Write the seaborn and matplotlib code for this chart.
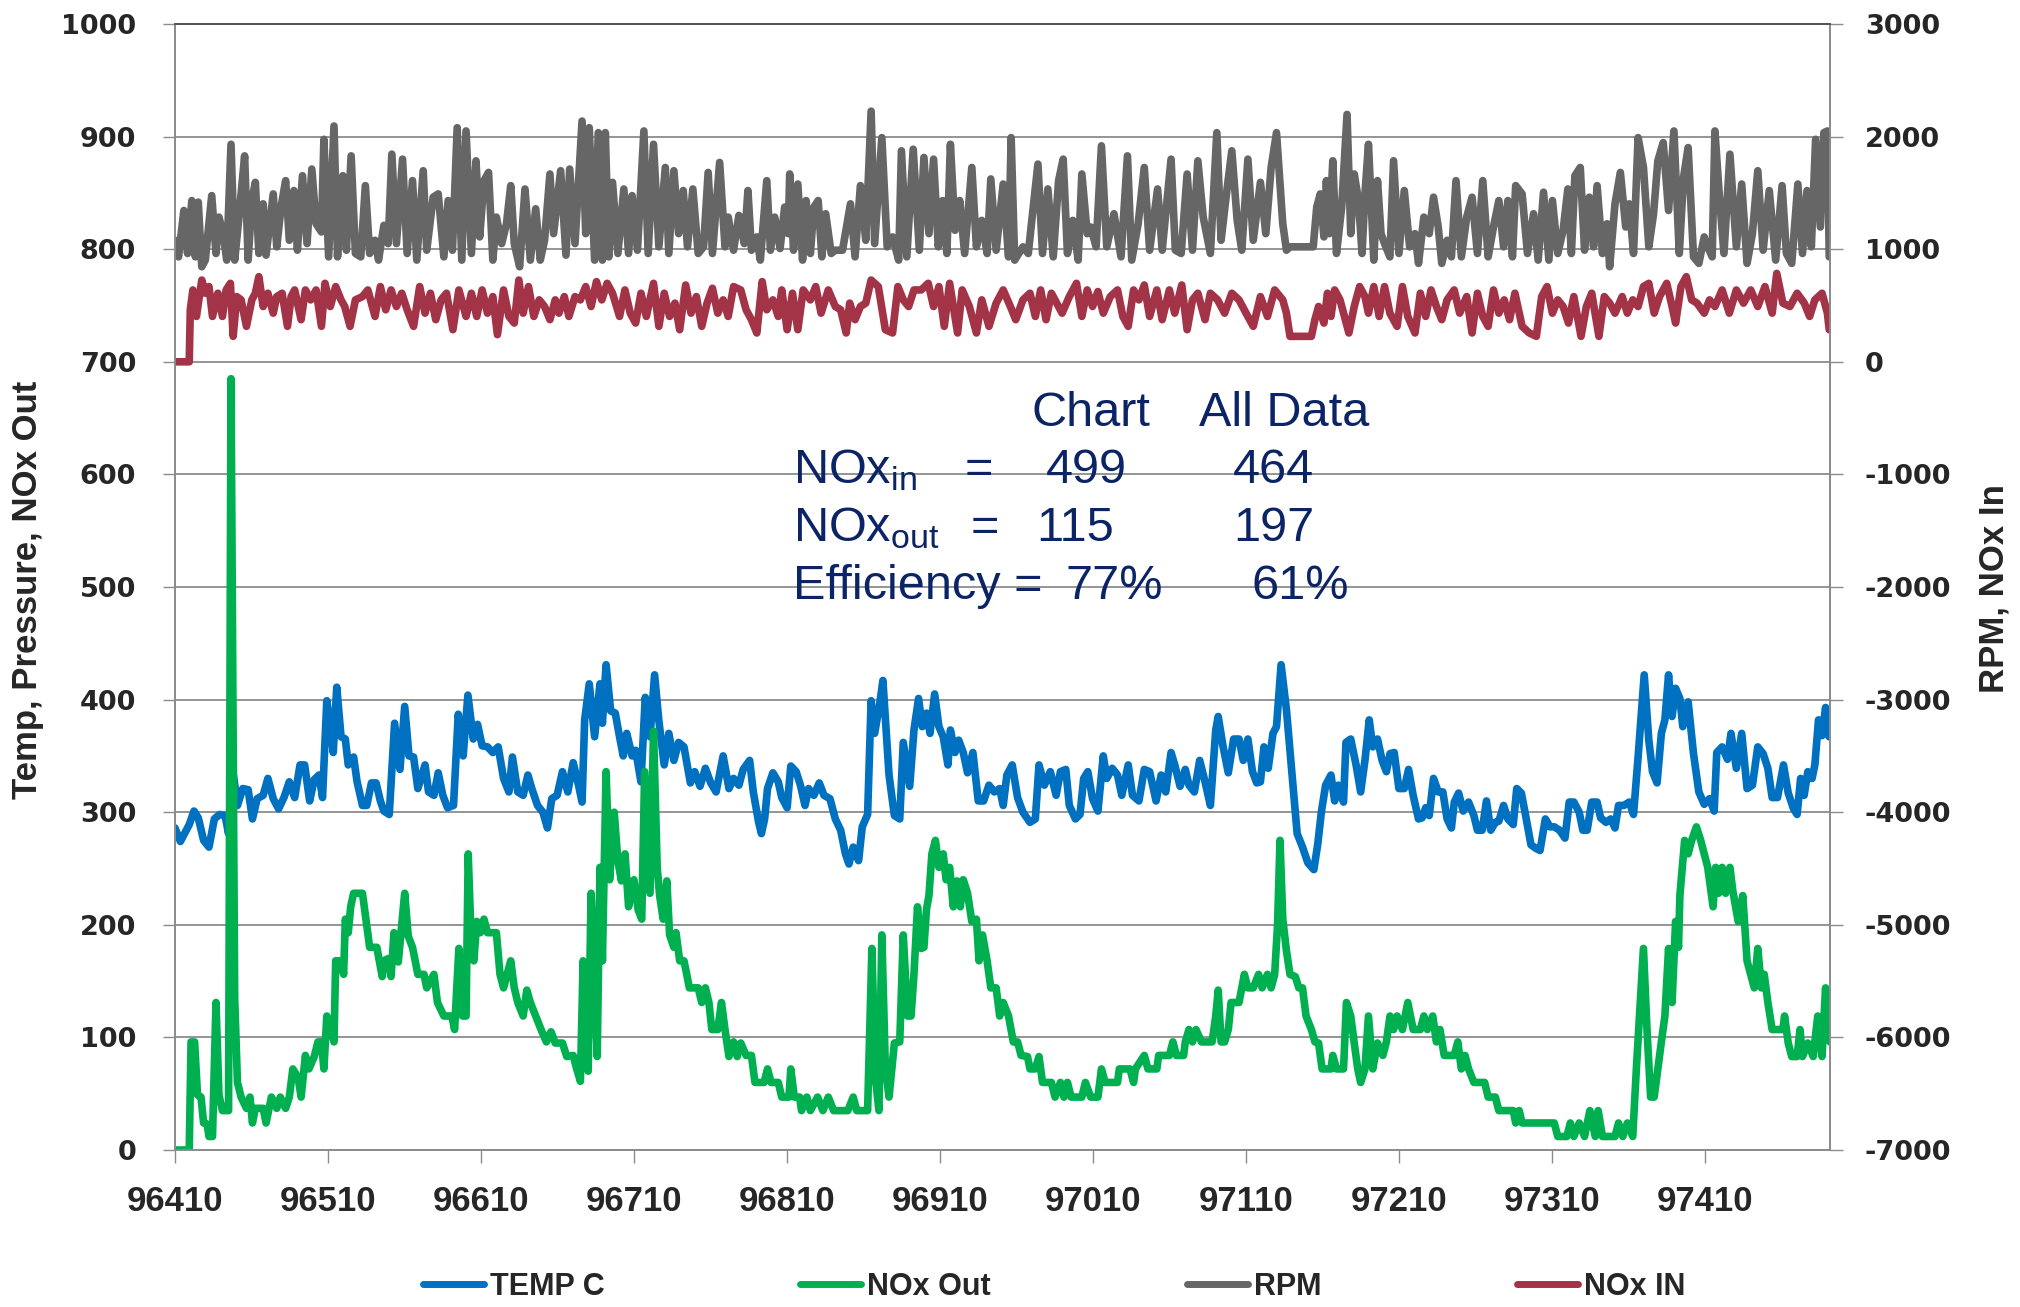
import matplotlib
matplotlib.use("Agg")
import matplotlib.pyplot as plt
from matplotlib import font_manager
import seaborn as sns
import pandas as pd
import numpy as np

# ---- data (x = record number, y = value) ----
temp_c = [
    (96410.0, 286), (96413.5, 274), (96417.0, 283), (96419.3, 289), (96422.4, 301), (96425.2, 295),
    (96428.7, 275), (96432.2, 269), (96435.7, 294), (96439.2, 298), (96442.7, 297), (96445.0, 281),
    (96447.3, 342), (96450.8, 306), (96454.3, 321), (96457.8, 320), (96460.6, 294), (96463.7, 312),
    (96467.6, 315), (96470.7, 330), (96474.2, 312), (96477.7, 303), (96481.2, 313), (96484.7, 327),
    (96488.2, 313), (96491.7, 342), (96494.7, 342), (96498.0, 310), (96501.0, 329), (96504.1, 333),
    (96506.4, 313), (96509.2, 399), (96511.5, 376), (96513.4, 353), (96515.7, 411), (96518.5, 367),
    (96521.3, 365), (96523.2, 342), (96526.7, 349), (96529.0, 327), (96532.5, 306), (96535.3, 306),
    (96538.4, 326), (96541.4, 326), (96544.2, 310), (96546.5, 301), (96550.0, 298), (96553.5, 379),
    (96557.0, 338), (96560.1, 394), (96562.9, 350), (96565.9, 349), (96568.7, 321), (96573.4, 342),
    (96575.7, 318), (96579.2, 315), (96582.0, 335), (96585.0, 315), (96588.1, 304), (96592.0, 306),
    (96595.1, 387), (96598.3, 350), (96601.4, 404), (96604.9, 365), (96607.7, 378), (96610.7, 359),
    (96614.2, 358), (96617.7, 353), (96621.2, 358), (96624.7, 330), (96628.2, 318), (96630.5, 349),
    (96634.0, 318), (96637.5, 315), (96640.6, 333), (96643.4, 320), (96646.9, 306), (96650.4, 300),
    (96653.4, 286), (96656.2, 312), (96659.7, 315), (96663.2, 336), (96666.7, 318), (96670.2, 344),
    (96673.7, 324), (96676.0, 309), (96677.7, 382), (96680.7, 414), (96684.2, 367), (96687.7, 414),
    (96689.3, 379), (96691.7, 431), (96694.7, 390), (96697.7, 388), (96700.5, 367), (96702.9, 350),
    (96705.2, 370), (96708.7, 350), (96711.0, 355), (96714.5, 327), (96717.3, 402), (96720.4, 367),
    (96723.4, 422), (96726.2, 381), (96729.7, 342), (96732.7, 370), (96736.0, 346), (96739.1, 362),
    (96742.6, 358), (96746.8, 326), (96749.6, 336), (96753.1, 323), (96756.6, 339), (96760.1, 326),
    (96763.6, 318), (96768.2, 350), (96772.0, 321), (96775.0, 330), (96778.5, 324), (96781.3, 338),
    (96785.5, 346), (96787.9, 318), (96791.4, 291), (96793.2, 281), (96795.3, 294), (96797.2, 321),
    (96800.7, 335), (96804.2, 327), (96806.5, 313), (96810.0, 304), (96812.4, 341), (96815.9, 336),
    (96818.7, 324), (96821.7, 306), (96824.0, 321), (96827.5, 315), (96831.0, 326), (96834.1, 315),
    (96838.0, 312), (96841.5, 294), (96845.0, 284), (96848.1, 263), (96850.4, 254), (96853.2, 269),
    (96856.7, 257), (96859.1, 287), (96862.6, 298), (96864.9, 399), (96867.2, 370), (96870.7, 398),
    (96872.6, 417), (96876.6, 333), (96880.1, 297), (96883.6, 294), (96885.9, 362), (96890.1, 323),
    (96892.9, 373), (96895.9, 401), (96898.3, 376), (96901.1, 388), (96903.4, 370), (96906.4, 405),
    (96909.2, 376), (96912.0, 367), (96915.1, 342), (96916.7, 373), (96919.7, 353), (96922.1, 364),
    (96925.1, 353), (96927.9, 335), (96931.4, 353), (96934.9, 310), (96938.4, 310), (96941.9, 324),
    (96945.4, 318), (96948.9, 321), (96951.2, 306), (96953.6, 333), (96957.1, 342), (96960.6, 313),
    (96964.1, 300), (96968.7, 291), (96972.2, 294), (96974.6, 342), (96978.1, 324), (96982.0, 336),
    (96985.8, 315), (96988.6, 336), (96992.1, 338), (96994.4, 306), (96998.4, 294), (97001.4, 298),
    (97003.8, 330), (97006.5, 336), (97009.6, 312), (97013.1, 301), (97016.6, 350), (97018.9, 330),
    (97022.4, 339), (97025.9, 333), (97028.7, 315), (97032.9, 342), (97035.7, 315), (97039.9, 310),
    (97043.4, 338), (97046.9, 336), (97051.1, 310), (97054.4, 333), (97057.4, 318), (97060.9, 353),
    (97063.3, 342), (97066.8, 323), (97070.2, 338), (97072.6, 324), (97076.1, 318), (97079.6, 346),
    (97083.1, 327), (97086.6, 306), (97090.1, 373), (97091.7, 385), (97094.8, 359), (97098.3, 335),
    (97101.8, 365), (97105.3, 365), (97108.1, 346), (97111.1, 365), (97114.1, 336), (97116.9, 326),
    (97119.3, 327), (97121.6, 358), (97124.4, 339), (97127.5, 370), (97129.8, 376), (97132.8, 431),
    (97136.3, 391), (97139.8, 336), (97143.3, 281), (97146.8, 269), (97150.3, 255), (97154.2, 249),
    (97156.8, 272), (97159.1, 300), (97161.9, 324), (97165.4, 333), (97167.8, 310), (97170.1, 324),
    (97173.6, 309), (97175.2, 362), (97178.3, 365), (97181.8, 342), (97184.8, 318), (97187.6, 346),
    (97190.4, 382), (97192.7, 358), (97195.8, 365), (97198.8, 346), (97201.6, 336), (97204.0, 352),
    (97206.7, 353), (97209.8, 321), (97213.3, 321), (97216.1, 338), (97219.1, 315), (97222.6, 294),
    (97225.0, 295), (97227.3, 304), (97229.6, 297), (97232.4, 330), (97235.5, 318), (97238.5, 318),
    (97241.3, 294), (97244.1, 286), (97246.0, 309), (97248.8, 317), (97251.8, 301), (97255.3, 309),
    (97258.8, 297), (97261.1, 284), (97264.2, 284), (97267.0, 310), (97269.8, 284), (97272.8, 291),
    (97275.1, 292), (97278.2, 306), (97281.0, 294), (97284.5, 289), (97286.8, 321), (97289.8, 317),
    (97292.6, 297), (97296.1, 271), (97299.2, 268), (97302.0, 266), (97305.5, 294), (97308.5, 287),
    (97311.3, 287), (97314.8, 284), (97318.3, 277), (97321.1, 309), (97324.1, 309), (97327.6, 300),
    (97330.0, 284), (97332.8, 284), (97335.8, 309), (97339.3, 309), (97341.6, 295), (97345.1, 291),
    (97348.2, 294), (97351.0, 286), (97353.3, 306), (97356.8, 306), (97360.3, 309), (97363.1, 298),
    (97366.1, 349), (97370.1, 422), (97373.1, 364), (97375.5, 336), (97378.5, 326), (97381.3, 370),
    (97383.6, 382), (97386.0, 422), (97388.3, 385), (97390.6, 410), (97393.4, 401), (97395.3, 376),
    (97398.8, 398), (97402.3, 352), (97405.8, 318), (97409.3, 307), (97412.8, 312), (97415.8, 301),
    (97417.5, 353), (97421.0, 358), (97424.5, 347), (97426.8, 370), (97430.3, 339), (97433.8, 370),
    (97437.3, 321), (97440.8, 324), (97444.3, 358), (97447.8, 352), (97450.9, 339), (97453.7, 313),
    (97457.2, 313), (97461.1, 342), (97464.2, 317), (97467.7, 303), (97470.0, 298), (97472.3, 330),
    (97474.6, 315), (97477.0, 336), (97479.8, 330), (97481.6, 342), (97484.0, 382), (97486.3, 368),
    (97488.6, 393), (97490.9, 367),
]

nox_out = [
    (96410.0, 0), (96419.3, 0), (96420.5, 96), (96422.8, 96), (96424.7, 49), (96427.0, 47),
    (96428.7, 24), (96431.0, 23), (96432.2, 12), (96434.5, 12), (96436.8, 131), (96438.7, 49),
    (96441.0, 35), (96445.0, 35), (96446.6, 685), (96449.0, 135), (96450.8, 60), (96453.2, 47),
    (96456.7, 37), (96459.0, 47), (96460.6, 24), (96462.5, 37), (96467.6, 37), (96469.5, 24),
    (96473.0, 47), (96476.5, 37), (96478.8, 47), (96482.3, 37), (96484.7, 47), (96487.0, 72),
    (96490.5, 64), (96492.4, 47), (96495.2, 84), (96497.5, 72), (96501.0, 83), (96503.4, 96),
    (96505.7, 96), (96507.3, 72), (96509.2, 119), (96512.0, 107), (96513.9, 96), (96515.0, 168),
    (96518.5, 168), (96520.2, 156), (96521.3, 205), (96523.2, 193), (96524.8, 216), (96526.7, 228),
    (96532.5, 228), (96537.2, 180), (96541.9, 180), (96545.4, 154), (96546.5, 168), (96549.3, 170),
    (96551.2, 154), (96553.1, 193), (96555.9, 167), (96557.7, 193), (96560.1, 228), (96562.4, 190),
    (96565.2, 180), (96568.7, 156), (96572.7, 156), (96574.5, 144), (96579.2, 156), (96581.5, 131),
    (96585.7, 119), (96590.9, 119), (96592.7, 107), (96595.5, 179), (96597.9, 119), (96600.2, 119),
    (96601.6, 263), (96603.7, 180), (96605.3, 168), (96607.2, 203), (96609.5, 193), (96611.9, 205),
    (96614.2, 193), (96620.0, 193), (96622.4, 156), (96624.7, 144), (96627.0, 156), (96629.4, 168),
    (96631.7, 144), (96634.0, 131), (96637.5, 119), (96639.9, 142), (96642.2, 131), (96645.7, 119),
    (96649.2, 107), (96652.7, 96), (96655.7, 105), (96658.5, 95), (96663.2, 95), (96666.0, 83),
    (96670.2, 84), (96672.5, 72), (96674.9, 61), (96676.7, 168), (96678.4, 83), (96680.0, 70),
    (96681.9, 228), (96684.2, 154), (96685.9, 83), (96687.7, 251), (96689.3, 168), (96691.7, 336),
    (96694.0, 240), (96697.0, 300), (96699.4, 257), (96701.7, 239), (96704.1, 263), (96706.4, 216),
    (96709.9, 240), (96712.7, 213), (96715.0, 205), (96716.9, 336), (96720.4, 228), (96722.7, 372),
    (96725.1, 251), (96726.7, 226), (96729.0, 205), (96731.4, 239), (96733.2, 191), (96736.0, 180),
    (96737.4, 193), (96739.8, 168), (96742.6, 168), (96744.4, 156), (96746.1, 144), (96751.9, 144),
    (96754.2, 131), (96756.6, 144), (96758.9, 131), (96760.8, 107), (96764.7, 107), (96767.1, 131),
    (96769.4, 107), (96772.0, 83), (96775.0, 96), (96777.4, 83), (96779.7, 95), (96783.2, 84),
    (96786.7, 84), (96789.0, 60), (96794.9, 60), (96797.2, 72), (96799.5, 60), (96804.2, 60),
    (96806.5, 47), (96811.2, 47), (96812.4, 72), (96814.7, 47), (96818.2, 47), (96819.4, 35),
    (96822.9, 47), (96825.2, 35), (96829.9, 47), (96833.4, 35), (96836.9, 47), (96840.4, 35),
    (96849.7, 35), (96853.2, 47), (96855.5, 35), (96862.6, 35), (96865.4, 179), (96867.7, 64),
    (96870.0, 35), (96871.9, 191), (96874.2, 73), (96876.6, 47), (96880.1, 95), (96883.6, 96),
    (96885.9, 191), (96888.7, 119), (96891.0, 119), (96892.9, 156), (96895.2, 216), (96897.6, 179),
    (96899.4, 180), (96901.1, 214), (96902.7, 226), (96904.6, 263), (96906.9, 275), (96909.2, 251),
    (96912.0, 263), (96913.9, 240), (96916.2, 251), (96918.6, 216), (96920.9, 239), (96923.2, 216),
    (96925.1, 240), (96927.9, 228), (96930.7, 203), (96933.7, 205), (96935.4, 168), (96937.7, 191),
    (96940.7, 168), (96943.1, 144), (96946.6, 144), (96948.9, 119), (96951.2, 131), (96954.7, 119),
    (96957.8, 96), (96960.6, 96), (96962.9, 84), (96967.1, 83), (96968.7, 72), (96972.2, 72),
    (96974.6, 83), (96976.9, 60), (96982.7, 60), (96985.1, 47), (96988.6, 60), (96990.9, 47),
    (96993.2, 60), (96995.6, 47), (97002.6, 47), (97004.9, 60), (97008.4, 47), (97013.1, 47),
    (97015.4, 72), (97017.8, 60), (97025.9, 60), (97027.1, 72), (97034.1, 72), (97036.4, 60),
    (97037.6, 72), (97043.4, 84), (97045.8, 72), (97051.6, 72), (97052.8, 84), (97059.8, 84),
    (97062.1, 96), (97064.4, 84), (97069.1, 84), (97070.2, 96), (97072.6, 107), (97074.9, 96),
    (97077.2, 107), (97080.8, 96), (97087.7, 96), (97090.1, 119), (97091.7, 142), (97093.6, 96),
    (97095.9, 96), (97098.3, 107), (97100.1, 131), (97105.3, 131), (97107.1, 144), (97108.8, 156),
    (97111.1, 144), (97114.6, 144), (97118.1, 156), (97120.4, 144), (97123.9, 156), (97126.3, 144),
    (97128.6, 156), (97130.5, 200), (97132.1, 275), (97133.9, 205), (97136.3, 177), (97138.6, 156),
    (97142.1, 154), (97144.4, 144), (97146.8, 144), (97149.1, 119), (97152.6, 107), (97154.9, 96),
    (97157.3, 95), (97159.6, 72), (97165.4, 72), (97166.6, 84), (97169.0, 72), (97173.6, 72),
    (97175.5, 131), (97178.3, 119), (97180.6, 95), (97182.9, 72), (97184.8, 60), (97187.6, 72),
    (97189.9, 119), (97192.7, 72), (97195.8, 95), (97199.3, 84), (97201.6, 96), (97204.0, 119),
    (97206.3, 107), (97208.6, 119), (97212.1, 107), (97215.6, 131), (97219.1, 107), (97223.8, 107),
    (97226.1, 119), (97228.4, 107), (97231.9, 119), (97234.3, 96), (97236.6, 107), (97239.4, 84),
    (97245.9, 84), (97248.3, 96), (97250.6, 72), (97253.0, 84), (97255.3, 72), (97258.8, 60),
    (97265.8, 60), (97268.1, 47), (97272.8, 47), (97275.1, 35), (97284.5, 35), (97286.1, 24),
    (97288.4, 35), (97290.3, 24), (97311.3, 24), (97313.6, 12), (97319.5, 12), (97321.8, 24),
    (97324.1, 12), (97327.6, 24), (97331.1, 12), (97334.6, 35), (97338.1, 12), (97340.0, 35),
    (97342.8, 12), (97351.0, 12), (97353.3, 24), (97356.1, 12), (97359.1, 24), (97362.6, 12),
    (97365.0, 73), (97369.6, 179), (97372.0, 104), (97374.3, 47), (97376.6, 47), (97379.0, 72),
    (97381.3, 96), (97383.6, 119), (97386.0, 179), (97388.3, 131), (97390.6, 203), (97392.5, 180),
    (97393.4, 226), (97396.5, 275), (97398.8, 263), (97401.1, 275), (97404.2, 287), (97407.0, 275),
    (97409.3, 263), (97411.6, 251), (97415.1, 216), (97416.8, 251), (97418.7, 228), (97421.0, 251),
    (97423.3, 228), (97426.1, 251), (97428.0, 230), (97431.5, 203), (97434.5, 226), (97437.3, 168),
    (97442.0, 144), (97444.3, 179), (97446.7, 144), (97448.5, 156), (97450.9, 131), (97453.7, 107),
    (97460.7, 107), (97461.8, 119), (97464.2, 95), (97466.5, 83), (97470.0, 83), (97471.9, 107),
    (97473.5, 83), (97477.0, 95), (97480.5, 83), (97483.5, 119), (97486.3, 83), (97488.6, 144),
    (97491.5, 96),
]

rpm = [
    (96410.0, 1079), (96412.3, 932), (96415.8, 1344), (96418.2, 962), (96421.0, 1432), (96423.3, 932),
    (96425.2, 1418), (96427.5, 844), (96429.8, 903), (96434.0, 1476), (96436.8, 962), (96438.7, 1285),
    (96441.5, 1138), (96443.8, 903), (96446.6, 1932), (96449.0, 903), (96452.0, 1315), (96455.5, 1829),
    (96457.8, 903), (96460.2, 1432), (96462.5, 1594), (96464.8, 962), (96467.6, 1403), (96469.5, 947),
    (96474.2, 1491), (96476.5, 1021), (96479.3, 1374), (96482.3, 1609), (96484.7, 1079), (96487.7, 1521),
    (96490.0, 991), (96493.3, 1653), (96496.3, 1050), (96499.4, 1712), (96502.2, 1226), (96505.7, 1153),
    (96507.3, 1976), (96510.4, 932), (96513.9, 2094), (96516.2, 932), (96519.7, 1653), (96522.0, 991),
    (96525.1, 1829), (96527.9, 962), (96531.4, 932), (96534.4, 1565), (96537.2, 962), (96540.7, 1079),
    (96543.0, 903), (96546.5, 1212), (96549.3, 1050), (96551.7, 1844), (96554.7, 1050), (96558.7, 1800),
    (96561.7, 962), (96565.2, 1609), (96568.0, 903), (96572.2, 1697), (96574.5, 991), (96578.7, 1462),
    (96582.0, 1491), (96585.7, 932), (96588.5, 1432), (96591.3, 991), (96594.4, 2079), (96597.4, 903),
    (96600.2, 2050), (96603.7, 962), (96606.7, 1785), (96609.1, 1109), (96611.9, 1609), (96614.9, 1682),
    (96617.7, 903), (96620.0, 1285), (96623.5, 1050), (96626.6, 1226), (96629.4, 1565), (96631.7, 1050),
    (96635.2, 844), (96638.7, 1535), (96642.2, 903), (96645.7, 1359), (96648.7, 903), (96651.5, 1079),
    (96655.0, 1668), (96657.4, 1138), (96662.0, 1697), (96665.5, 947), (96667.9, 1712), (96671.4, 1050),
    (96676.0, 2138), (96678.4, 1138), (96680.7, 2079), (96684.2, 903), (96686.6, 2035), (96689.3, 903),
    (96691.2, 2035), (96693.5, 932), (96695.9, 1594), (96699.4, 962), (96703.3, 1535), (96706.4, 962),
    (96708.7, 1476), (96712.2, 991), (96716.4, 2050), (96719.2, 962), (96722.7, 1932), (96726.2, 1021),
    (96730.4, 1726), (96732.7, 962), (96736.0, 1697), (96739.1, 1138), (96742.1, 1521), (96744.9, 1021),
    (96748.4, 1535), (96751.9, 962), (96755.4, 1021), (96758.4, 1682), (96761.2, 962), (96765.9, 1771),
    (96769.4, 1021), (96771.5, 1285), (96775.0, 991), (96778.5, 1300), (96782.0, 1050), (96784.4, 1521),
    (96786.7, 991), (96790.2, 1109), (96792.5, 903), (96796.7, 1609), (96799.1, 991), (96801.9, 1285),
    (96805.4, 1006), (96808.4, 1374), (96810.7, 1138), (96811.7, 1668), (96814.2, 991), (96817.0, 1579),
    (96820.1, 903), (96822.4, 1432), (96825.2, 962), (96827.5, 1374), (96830.3, 1432), (96832.7, 932),
    (96835.2, 1315), (96838.8, 962), (96841.5, 991), (96846.2, 991), (96851.4, 1403), (96854.4, 932),
    (96857.9, 1565), (96861.4, 1079), (96864.9, 2226), (96867.2, 1050), (96871.9, 1991), (96875.4, 1021),
    (96878.9, 1109), (96882.9, 903), (96884.7, 1874), (96888.2, 932), (96892.4, 1888), (96896.4, 991),
    (96899.4, 1815), (96902.7, 1138), (96905.7, 1800), (96908.8, 1021), (96911.6, 1432), (96914.4, 962),
    (96916.7, 1932), (96919.7, 1168), (96922.8, 1432), (96926.0, 962), (96930.7, 1726), (96933.7, 1021),
    (96937.2, 1256), (96940.7, 962), (96943.1, 1624), (96946.6, 991), (96951.2, 1579), (96954.7, 932),
    (96956.4, 1991), (96958.7, 903), (96964.1, 1021), (96967.6, 962), (96969.9, 1256), (96973.9, 1756),
    (96976.9, 962), (96980.4, 1535), (96983.9, 932), (96987.4, 1609), (96990.4, 1800), (96993.2, 962),
    (96996.7, 1256), (97000.2, 903), (97002.6, 1668), (97006.1, 1138), (97008.4, 1197), (97011.9, 1021),
    (97015.4, 1918), (97018.9, 1021), (97023.6, 1315), (97028.2, 932), (97032.4, 1829), (97035.2, 903),
    (97039.4, 1226), (97043.4, 1726), (97046.9, 991), (97052.1, 1535), (97055.1, 991), (97060.9, 1800),
    (97063.7, 991), (97067.5, 962), (97071.4, 1668), (97074.9, 991), (97078.4, 1785), (97081.9, 1285),
    (97086.6, 962), (97090.8, 2035), (97093.6, 1079), (97097.1, 1491), (97100.6, 1874), (97104.1, 1256),
    (97107.1, 991), (97111.1, 1800), (97114.6, 1079), (97119.3, 1594), (97122.8, 1138), (97126.3, 1726),
    (97129.8, 2035), (97133.9, 1226), (97136.3, 991), (97138.6, 1021), (97153.8, 1021), (97156.1, 1374),
    (97158.4, 1491), (97160.8, 1109), (97162.4, 1609), (97164.3, 1138), (97166.6, 1785), (97169.0, 962),
    (97172.4, 1374), (97175.9, 2197), (97178.3, 1138), (97180.6, 1668), (97183.4, 1432), (97185.7, 962),
    (97187.6, 1491), (97189.9, 1932), (97193.4, 903), (97195.8, 1609), (97198.1, 1138), (97200.4, 1050),
    (97203.9, 932), (97206.3, 1785), (97209.8, 962), (97213.3, 1521), (97216.8, 1021), (97220.3, 1138),
    (97222.6, 874), (97226.1, 1285), (97229.6, 1138), (97232.4, 1462), (97235.5, 1197), (97237.8, 874),
    (97241.3, 1079), (97244.1, 932), (97247.1, 1609), (97250.6, 932), (97254.1, 1285), (97257.6, 1462),
    (97261.1, 962), (97264.6, 1609), (97268.1, 932), (97271.6, 1197), (97275.1, 1432), (97278.2, 1021),
    (97281.0, 1432), (97284.0, 932), (97286.1, 1565), (97290.3, 1491), (97293.8, 962), (97297.8, 1315),
    (97300.8, 903), (97304.3, 1506), (97307.8, 903), (97310.1, 1432), (97313.6, 962), (97317.1, 1168),
    (97320.2, 1535), (97322.5, 962), (97324.8, 1653), (97328.3, 1726), (97331.1, 991), (97334.2, 1462),
    (97337.0, 1021), (97339.3, 1565), (97342.8, 962), (97345.8, 1226), (97347.5, 844), (97351.0, 1403),
    (97354.5, 1682), (97358.0, 1197), (97360.3, 1403), (97363.1, 962), (97366.1, 1991), (97369.6, 1726),
    (97373.1, 1021), (97376.2, 1315), (97379.0, 1785), (97382.5, 1947), (97386.0, 1344), (97389.5, 2050),
    (97393.0, 962), (97395.8, 1638), (97398.8, 1903), (97402.3, 932), (97405.8, 874), (97409.3, 1109),
    (97411.6, 1021), (97414.5, 932), (97416.3, 2050), (97419.1, 1491), (97422.2, 962), (97426.1, 1844),
    (97430.3, 1021), (97433.8, 1579), (97437.3, 874), (97440.8, 1138), (97444.3, 1697), (97447.8, 991),
    (97451.8, 1521), (97456.0, 903), (97460.2, 1565), (97463.0, 962), (97466.5, 874), (97470.5, 1579),
    (97473.5, 962), (97476.5, 1521), (97479.3, 1021), (97482.1, 1976), (97485.2, 1197), (97487.5, 2035),
    (97489.8, 2050), (97491.0, 932),
]

nox_in = [
    (96410.0, 0), (96419.3, 0), (96420.0, 462), (96421.7, 638), (96424.0, 403), (96427.5, 726),
    (96429.8, 609), (96432.2, 668), (96434.5, 403), (96438.0, 609), (96441.0, 403), (96443.4, 638),
    (96446.2, 697), (96448.0, 226), (96450.4, 579), (96453.2, 550), (96456.7, 315), (96460.2, 550),
    (96462.5, 609), (96464.8, 756), (96467.6, 491), (96470.7, 609), (96474.2, 432), (96476.5, 579),
    (96480.0, 609), (96483.5, 315), (96485.9, 579), (96488.2, 638), (96492.4, 374), (96495.2, 638),
    (96498.7, 550), (96502.2, 638), (96505.7, 315), (96508.0, 697), (96511.5, 491), (96515.0, 668),
    (96518.5, 550), (96520.9, 491), (96524.4, 315), (96527.9, 550), (96532.5, 579), (96536.0, 638),
    (96540.7, 403), (96544.2, 668), (96547.7, 462), (96551.2, 638), (96554.7, 491), (96558.2, 609),
    (96561.7, 462), (96565.9, 315), (96569.9, 668), (96573.4, 432), (96576.9, 609), (96580.4, 374),
    (96583.9, 550), (96587.4, 609), (96591.6, 285), (96595.5, 638), (96600.2, 403), (96603.7, 609),
    (96607.2, 403), (96610.7, 638), (96614.2, 432), (96617.7, 579), (96620.7, 241), (96624.7, 638),
    (96628.2, 403), (96631.7, 344), (96634.7, 726), (96637.5, 432), (96641.0, 668), (96644.5, 403),
    (96648.0, 550), (96651.5, 491), (96655.0, 374), (96658.5, 550), (96660.9, 432), (96664.4, 579),
    (96667.4, 403), (96671.4, 579), (96674.9, 550), (96678.4, 668), (96681.9, 491), (96685.4, 712),
    (96688.9, 550), (96692.4, 697), (96695.9, 609), (96700.5, 403), (96704.0, 638), (96707.5, 432),
    (96711.0, 344), (96714.5, 609), (96718.0, 403), (96722.7, 697), (96726.2, 315), (96729.7, 609),
    (96733.2, 403), (96736.7, 521), (96739.8, 285), (96743.7, 682), (96747.2, 432), (96750.7, 579),
    (96754.2, 315), (96757.7, 521), (96761.2, 653), (96764.7, 432), (96768.2, 550), (96771.5, 403),
    (96775.0, 668), (96779.7, 638), (96783.2, 462), (96786.7, 374), (96790.2, 256), (96793.7, 712),
    (96796.7, 462), (96800.7, 550), (96804.2, 403), (96806.5, 638), (96810.0, 285), (96813.5, 609),
    (96817.0, 285), (96820.5, 638), (96825.2, 550), (96828.7, 668), (96832.2, 432), (96836.9, 638),
    (96841.5, 491), (96845.0, 462), (96848.6, 256), (96850.9, 521), (96854.4, 374), (96857.9, 491),
    (96861.4, 521), (96864.9, 726), (96869.6, 668), (96874.2, 285), (96878.9, 256), (96882.4, 668),
    (96885.9, 550), (96889.4, 491), (96892.9, 638), (96897.6, 638), (96902.2, 697), (96905.7, 491),
    (96909.2, 668), (96912.7, 315), (96916.2, 697), (96921.4, 256), (96924.4, 638), (96929.1, 491),
    (96933.7, 256), (96937.2, 550), (96941.9, 315), (96946.6, 521), (96951.2, 638), (96955.9, 491),
    (96959.4, 374), (96964.1, 550), (96968.7, 609), (96972.2, 403), (96975.7, 638), (96979.2, 374),
    (96982.7, 609), (96986.2, 521), (96989.7, 432), (96994.4, 579), (96999.1, 697), (97002.6, 403),
    (97006.1, 638), (97009.6, 491), (97013.1, 624), (97016.6, 432), (97021.2, 579), (97025.9, 638),
    (97029.4, 403), (97032.9, 315), (97036.4, 638), (97039.9, 550), (97043.4, 682), (97046.9, 403),
    (97051.6, 638), (97055.1, 374), (97059.8, 638), (97063.3, 432), (97067.9, 682), (97071.4, 285),
    (97074.9, 550), (97078.4, 609), (97083.1, 374), (97086.6, 609), (97091.3, 550), (97095.9, 432),
    (97100.6, 609), (97105.3, 550), (97109.9, 432), (97114.6, 315), (97119.3, 579), (97123.9, 403),
    (97128.6, 638), (97133.9, 550), (97136.3, 432), (97138.6, 226), (97152.6, 226), (97154.9, 374),
    (97157.3, 491), (97160.8, 344), (97163.1, 609), (97165.4, 403), (97167.8, 638), (97171.3, 550),
    (97173.6, 432), (97177.1, 256), (97180.6, 491), (97184.1, 668), (97187.6, 579), (97189.9, 432),
    (97193.4, 668), (97196.9, 403), (97200.4, 668), (97203.9, 432), (97208.6, 315), (97212.1, 668),
    (97215.6, 403), (97220.3, 256), (97223.8, 609), (97227.3, 403), (97230.8, 638), (97234.3, 491),
    (97237.8, 374), (97241.3, 550), (97245.9, 638), (97249.5, 432), (97254.1, 579), (97257.6, 256),
    (97261.1, 609), (97264.6, 403), (97268.1, 315), (97271.6, 638), (97275.1, 432), (97278.6, 550),
    (97282.1, 374), (97285.6, 609), (97290.3, 315), (97295.0, 256), (97299.6, 226), (97303.1, 579),
    (97306.6, 668), (97310.1, 432), (97313.6, 550), (97317.1, 491), (97320.6, 344), (97324.1, 579),
    (97328.8, 226), (97332.3, 491), (97335.8, 609), (97340.5, 226), (97344.0, 579), (97347.5, 521),
    (97351.0, 432), (97355.7, 579), (97359.1, 432), (97362.6, 550), (97366.1, 491), (97369.6, 668),
    (97373.1, 697), (97376.6, 432), (97380.1, 579), (97384.8, 697), (97388.3, 491), (97390.6, 344),
    (97394.1, 668), (97397.6, 756), (97401.1, 550), (97404.6, 521), (97409.3, 432), (97412.8, 550),
    (97416.3, 491), (97421.0, 638), (97425.7, 432), (97430.3, 638), (97435.0, 521), (97439.7, 638),
    (97444.3, 491), (97449.0, 668), (97453.7, 432), (97456.7, 785), (97460.7, 521), (97465.3, 491),
    (97470.0, 609), (97474.7, 521), (97478.2, 403), (97481.6, 550), (97486.3, 609), (97489.8, 432),
    (97491.0, 285),
]

x_ticks = list(range(96410, 97411, 100))
left_ticks = list(range(0, 1001, 100))
right_ticks = list(range(-7000, 3001, 1000))

stat_cols = ["Chart", "All Data"]
stat_rows = [r"NOx$_{\mathregular{in}}$", r"NOx$_{\mathregular{out}}$", "Efficiency ="]
chart_vals = ["499", "115", "77%"]
all_vals = ["464", "197", "61%"]

# ---- style ----
sns.set_style("white")
plt.rcParams["font.family"] = ["Liberation Sans", "DejaVu Sans"]
plt.rcParams["lines.solid_joinstyle"] = "round"
plt.rcParams["axes.unicode_minus"] = False
plt.rcParams["mathtext.default"] = "regular"
names = {f.name for f in font_manager.fontManager.ttflist}
narrow = "Liberation Sans Narrow" if "Liberation Sans Narrow" in names else "Liberation Sans"

c_temp, c_out, c_rpm, c_in = "#0070C0", "#00B050", "#666666", "#A33347"
grid_c = "#8C8C8C"
navy = "#0B2466"
lw = 5.5

W, H = 2020, 1307
fig = plt.figure(figsize=(W / 100, H / 100), dpi=100)
ax = fig.add_axes([175 / W, 1 - 1150 / H, (1830 - 175) / W, (1150 - 24) / H])
ax2 = ax.twinx()


def frame(pts):
    return pd.DataFrame(pts, columns=["x", "y"])


sns.lineplot(data=frame(temp_c), x="x", y="y", ax=ax, color=c_temp, linewidth=lw,
             sort=False, estimator=None, label="TEMP C", legend=False)
sns.lineplot(data=frame(nox_out), x="x", y="y", ax=ax, color=c_out, linewidth=lw,
             sort=False, estimator=None, label="NOx Out", legend=False)
sns.lineplot(data=frame(rpm), x="x", y="y", ax=ax2, color=c_rpm, linewidth=lw,
             sort=False, estimator=None, label="RPM", legend=False)
sns.lineplot(data=frame(nox_in), x="x", y="y", ax=ax2, color=c_in, linewidth=lw,
             sort=False, estimator=None, label="NOx IN", legend=False)

ax.set_xlim(96410, 97491.5)
ax.set_ylim(0, 1000)
ax2.set_ylim(-7000, 3000)
ax.set_xticks(x_ticks)
ax.set_xticklabels([str(t) for t in x_ticks])
ax.set_yticks(left_ticks)
ax2.set_yticks(right_ticks)
ax.set_xlabel("")
ax.set_ylabel("")
ax2.set_ylabel("")

ax.yaxis.grid(True, color=grid_c, lw=1.3)
ax.xaxis.grid(False)
ax.set_axisbelow(True)

for a in (ax, ax2):
    for s in a.spines.values():
        s.set_color(grid_c)
        s.set_linewidth(1.3)
    a.spines["top"].set_color("#555555")

ax.tick_params(axis="x", direction="out", length=9, width=1.0, color=grid_c, pad=16,
               bottom=True, labelsize=25)
ax.tick_params(axis="y", direction="out", length=9, width=1.0, color=grid_c, pad=19,
               left=True, labelsize=19.5)
ax2.tick_params(axis="y", direction="out", length=9, width=1.0, color=grid_c, pad=16,
                right=True, labelsize=19.5)
for lab in ax.get_xticklabels():
    lab.set_fontfamily(narrow)
    lab.set_fontweight("bold")
for lab in ax.get_yticklabels() + ax2.get_yticklabels():
    lab.set_fontfamily("DejaVu Sans")
    lab.set_fontweight("bold")

fig.text(28 / W, 1 - 590 / H, "Temp, Pressure, NOx Out", rotation=90, ha="center", va="center",
         fontsize=25, fontweight="bold")
fig.text(1994 / W, 1 - 589 / H, "RPM, NOx In", rotation=90, ha="center", va="center",
         fontsize=25, fontweight="bold")

# ---- stats box ----
fs = 41 if narrow != "Liberation Sans" else 35
fig.text(1031 / W, 1 - 426 / H, stat_cols[0], fontsize=fs, color=navy, family=narrow, va="baseline")
fig.text(1199 / W, 1 - 426 / H, stat_cols[1], fontsize=fs, color=navy, family=narrow, va="baseline")
row_base = [483, 541, 599]
eq_x = [965, 971, None]
chart_x = [1046, 1036, 1065]
all_x = [1233, 1233, 1251]
for i in range(3):
    yb = 1 - row_base[i] / H
    fig.text(793 / W, yb, stat_rows[i], fontsize=fs, color=navy, family=narrow, va="baseline")
    if eq_x[i]:
        fig.text(eq_x[i] / W, yb, "=", fontsize=fs, color=navy, family=narrow, va="baseline")
    fig.text(chart_x[i] / W, yb, chart_vals[i], fontsize=fs, color=navy, family=narrow, va="baseline")
    fig.text(all_x[i] / W, yb, all_vals[i], fontsize=fs, color=navy, family=narrow, va="baseline")

# ---- legend ----
handles = ax.get_lines()[:2] + ax2.get_lines()[:2]
leg = fig.legend(handles, ["TEMP C", "NOx Out", "RPM", "NOx IN"], loc="center",
                 bbox_to_anchor=(1054 / W, 1 - 1287 / H), ncol=4, frameon=False,
                 handlelength=2.0, handletextpad=0.2, columnspacing=6.4,
                 prop={"family": narrow, "weight": "bold", "size": 22})
for h in leg.get_lines():
    h.set_linewidth(5)

fig.savefig("out.png", dpi=100)
